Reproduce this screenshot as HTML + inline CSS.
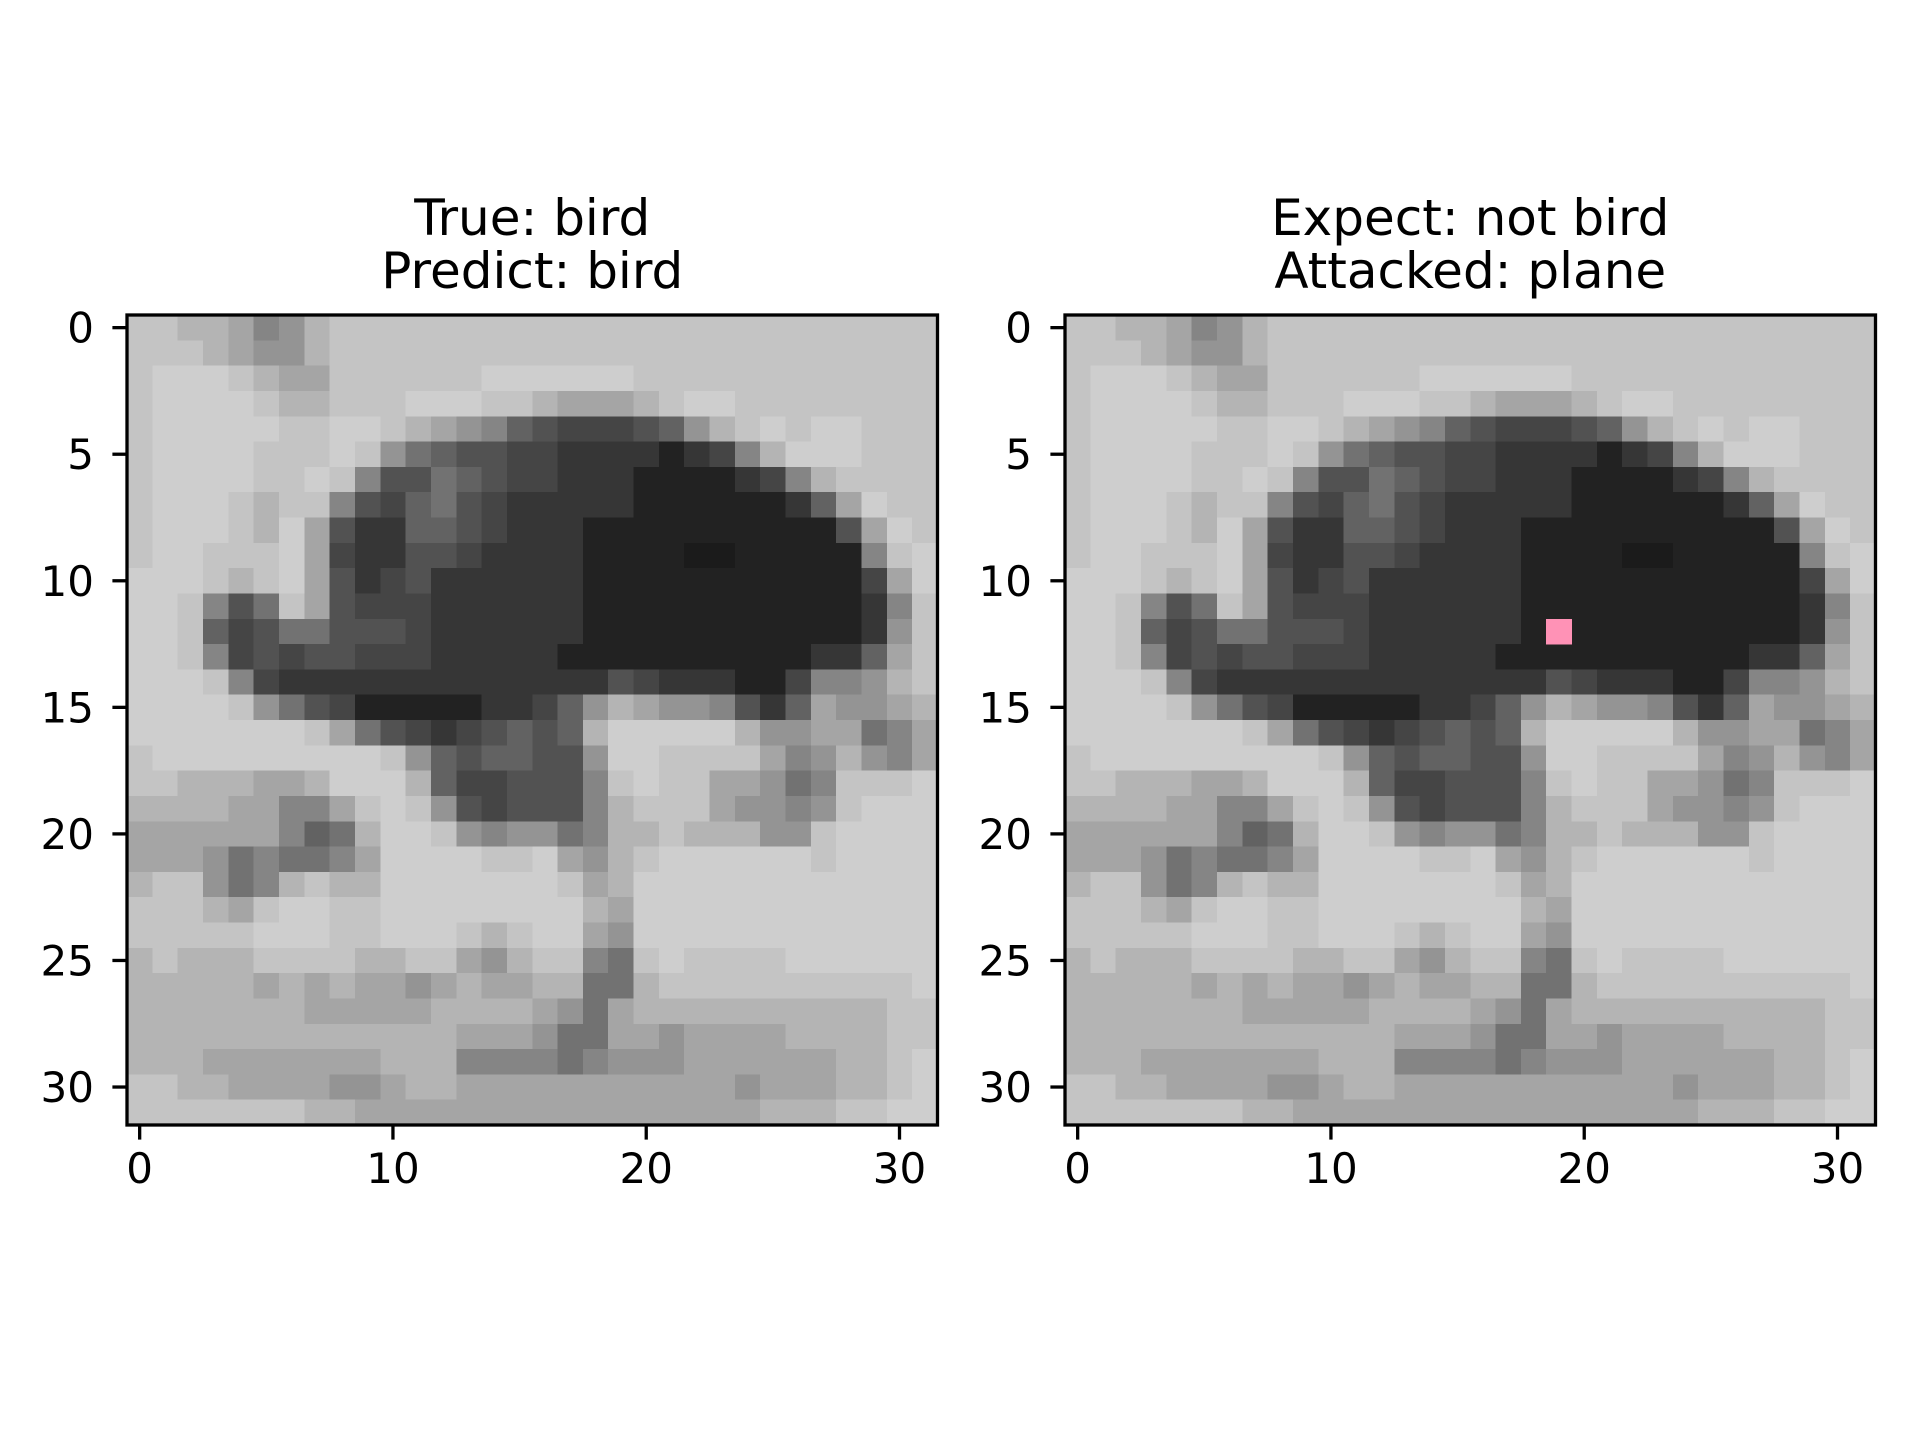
<!DOCTYPE html>
<html><head><meta charset="utf-8"><style>
html,body{margin:0;padding:0;background:#fff;}
svg text{font-family:"DejaVu Sans","Liberation Sans",sans-serif;fill:#000;}
</style></head><body>
<svg id="fig" width="1920" height="1440" viewBox="0 0 1920 1440" xmlns="http://www.w3.org/2000/svg">
<rect width="1920" height="1440" fill="#fff"/>
</svg>
<script>
const imageRows = [
"ccbba89bcccccccc"+"cccccccccccccccc",
"cccba99bcccccccc"+"cccccccccccccccc",
"cdddcbaaccccccdd"+"ddddcccccccccccc",
"cddddcbbcccdddcc"+"baaabcddcccccccc",
"cdddddccddcba986"+"5444569bcdcddccc",
"cddddcccdc976554"+"433332348bdddccc",
"cddddccdc8557654"+"43332222348bcccc",
"cdddcbcc85467543"+"333322222236adcc",
"cdddcbda53366543"+"3322222222225adc",
"cddcccda43355433"+"33222211222228cd",
"dddcbcda53453333"+"33222222222224ad",
"ddc857ca54443333"+"332222222222238c",
"ddc6457755543333"+"332222222222239c",
"ddc8454554443333"+"32222222222336ac",
"dddc843333333333"+"33354333224889bc",
"ddddc97542222233"+"469ba998536a99ab",
"dddddddca7543456"+"56bdddddb99aa78a",
"cdddddddddc96566"+"559ddcccca89b98a",
"ccbbbaabdddb6445"+"558cdccaa978cccd",
"bbbbaa88acdc9545"+"558bccca9989cddd",
"aaaaaa867bddc989"+"978bbcbbb99cdddd",
"aaa978778addddcc"+"da9bcddddddcdddd",
"bcc978bcbbdddddd"+"dcabdddddddddddd",
"cccbacddccdddddd"+"ddbadddddddddddd",
"cccccdddccdddcbc"+"dda9dddddddddddd",
"bcbbbccccbbcca9b"+"cc87cdccccdddddd",
"bbbbbababaa9abaa"+"bb77bccccccccccd",
"bbbbbbbaaaaabbbb"+"a97abbbbbbbbbbcc",
"bbbbbbbbbbbbbaaa"+"977aa9aaaabbbbcc",
"bbbaaaaaaabbb888"+"878999aaaaaabbcd",
"ccbbaaaa99abbaaa"+"aaaaaaaa9aaabbcd",
"cccccccbbaaaaaaa"+"aaaaaaaaabbbccdd"
];
const tickValsX = [0, 10, 20, 30];
const tickValsY = [0, 5, 10, 15, 20, 25, 30];
const attackCell = [19, 12];
const titlesLeft = ["True: bird", "Predict: bird"];
const titlesRight = ["Expect: not bird", "Attacked: plane"];
const grayScale = [0x10,0x1b,0x22,0x36,0x45,0x52,0x62,0x72,0x85,0x94,0xa5,0xb4,0xc4,0xce,0xd4,0xdc];
const grid = imageRows.map(r => {
  let s = r.replace(/[^0-9a-f]/g, '');
  if (s.length > 32) s = s.slice(0, 32);
  while (s.length < 32) s += s[s.length - 1];
  return s.split('').map(c => parseInt(c, 16));
});
const NS = 'http://www.w3.org/2000/svg';
const svg = document.getElementById('fig');
function mk(tag, attrs, parent) {
  const e = document.createElementNS(NS, tag);
  for (const k in attrs) e.setAttribute(k, attrs[k]);
  (parent || svg).appendChild(e);
  return e;
}
function drawPanel(x0, titles, name, pink) {
  const y0 = 315, W = 810.5, H = 810;
  const cw = W / 32, ch = H / 32;
  const sx = v => x0 + (v + 0.5) * cw;
  const sy = v => y0 + (v + 0.5) * ch;
  const g = mk('g', {});
  
  
  const img = mk('g', {'shape-rendering': 'crispEdges'}, g);
  
  
  for (let r = 0; r < 32; r++) {
    for (let c = 0; c < 32; c++) {
      const v = grayScale[grid[r][c]];
      const col = `rgb(${v},${v},${v})`;
      const rc = mk('rect', {x: x0 + c * cw, y: y0 + r * ch, width: cw + 0.6, height: ch + 0.6, fill: col}, img);
      
      
    }
  }
  if (pink) {
    const p = mk('rect', {x: x0 + pink[0] * cw, y: y0 + pink[1] * ch, width: cw + 0.6, height: ch + 0.6, fill: '#ff92b6'}, img);
    
    
  }
  const fr = mk('rect', {x: x0, y: y0, width: W, height: H, fill: 'none', stroke: '#000', 'stroke-width': 3.3}, g);
  
  
  tickValsX.forEach(t => {
    const x = sx(t);
    const l = mk('line', {x1: x, x2: x, y1: y0 + H, y2: y0 + H + 14.6, stroke: '#000', 'stroke-width': 3.3}, g);
    
    
    const tx = mk('text', {x: x, y: 1183, 'font-size': 42, 'text-anchor': 'middle'}, g);
    tx.textContent = t;
    
    
  });
  tickValsY.forEach(t => {
    const y = sy(t);
    const l = mk('line', {x1: x0 - 14.6, x2: x0, y1: y, y2: y, stroke: '#000', 'stroke-width': 3.3}, g);
    
    
    const tx = mk('text', {x: x0 - 33, y: y + 15, 'font-size': 42, 'text-anchor': 'end'}, g);
    tx.textContent = t;
    
    
  });
  titles.forEach((s, i) => {
    const tx = mk('text', {x: x0 + W / 2, y: 235 + i * 53, 'font-size': 50, 'text-anchor': 'middle'}, g);
    tx.textContent = s;
    
    
  });
}
drawPanel(127, titlesLeft, 'original-panel', null);
drawPanel(1065, titlesRight, 'attacked-panel', attackCell);
</script>
</body></html>
